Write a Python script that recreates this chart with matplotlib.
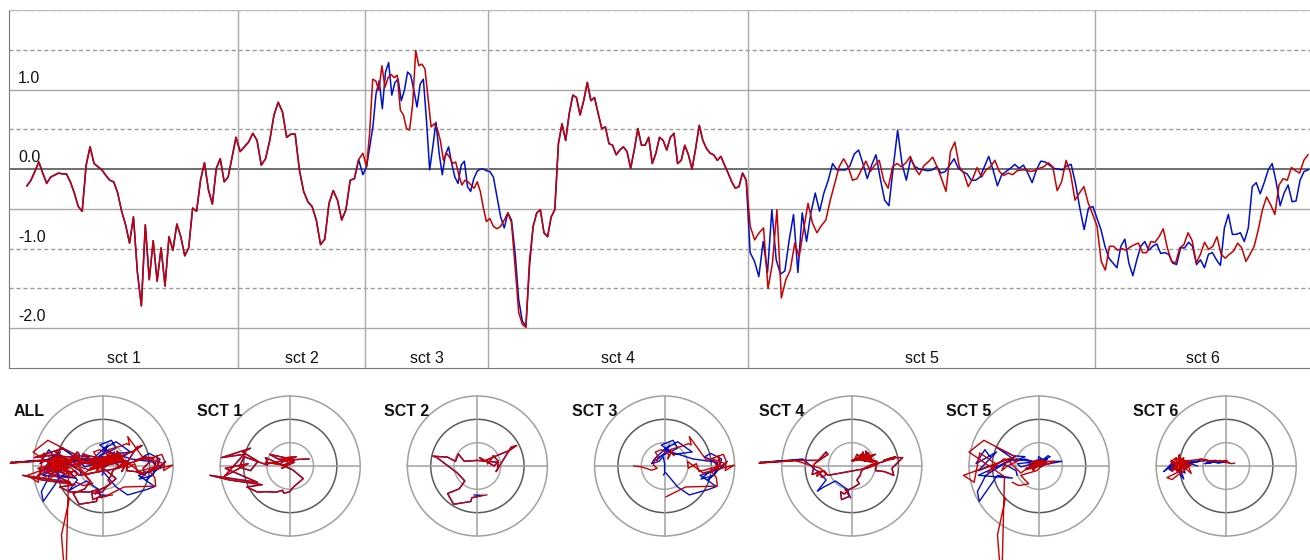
import numpy as np
import matplotlib
matplotlib.use("Agg")
import matplotlib.pyplot as plt
from matplotlib.patches import Circle
from matplotlib.transforms import blended_transform_factory

plt.rcParams['font.family'] = ['Liberation Sans', 'DejaVu Sans']

# sections on the time axis (frames)
sct_names = ['sct 1', 'sct 2', 'sct 3', 'sct 4', 'sct 5', 'sct 6']
target_names = ['ALL', 'SCT 1', 'SCT 2', 'SCT 3', 'SCT 4', 'SCT 5', 'SCT 6']
sct_start = [16, 229, 356, 479, 739, 1086]
sct_end = [229, 356, 479, 739, 1086, 1301]
t_max = 1301

# y ticks of the top chart
tick_vals = [1.0, 0.0, -1.0, -2.0]
tick_labels = ['1.0', '0.0', '-1.0', '-2.0']
solid_grid = [1.0, -0.5, -2.0]
dashed_grid = [2.0, 1.5, 0.5, -1.0, -1.5]

# --- section 1 (blue and red are the same) ---
s1_val = [-0.21, -0.14, -0.03, 0.09, -0.05, -0.18, -0.10, -0.075, -0.05, -0.06,
          -0.06, -0.16, -0.30, -0.47, -0.53, 0.05, 0.28, 0.07, 0.03, -0.01,
          -0.08, -0.14, -0.16, -0.30, -0.53, -0.70, -0.93, -0.60, -1.30, -1.72,
          -0.70, -1.39, -0.90, -1.41, -0.99, -1.47, -0.85, -1.02, -0.69, -0.85,
          -1.09, -0.99, -0.49, -0.53, -0.14, 0.08, -0.26, -0.44, 0.01, 0.13,
          -0.16, -0.10, 0.15, 0.40]
s1_y = [0.05, 0.10, 0.12, 0.08, 0.02, -0.05, 0.00, 0.00, 0.06, 0.10,
        0.14, 0.12, 0.08, 0.05, 0.18, -0.08, -0.27, -0.45, -0.50, -0.55,
        -0.57, -0.58, -0.52, -0.56, -0.55, -0.56, -0.45, -0.40, -0.30, -0.20,
        -0.35, -0.05, 0.05, -0.22, 0.25, 0.18, 0.38, 0.30, 0.10, -0.10,
        -0.02, 0.20, 0.02, 0.08, 0.02, 0.12, 0.15, 0.25, 0.15, 0.20,
        0.17, 0.12, 0.14, 0.15]

# --- section 2 ---
s2_blue = [0.22, 0.28, 0.34, 0.45, 0.36, 0.05, 0.13, 0.36, 0.68, 0.84,
           0.72, 0.40, 0.44, 0.44, -0.01, -0.28, -0.41, -0.47, -0.64, -0.95,
           -0.88, -0.43, -0.27, -0.39, -0.64, -0.51, -0.14, -0.12, 0.12, -0.07]
s2_red = [0.22, 0.28, 0.34, 0.45, 0.36, 0.05, 0.13, 0.36, 0.68, 0.84,
          0.72, 0.40, 0.44, 0.44, -0.01, -0.28, -0.41, -0.47, -0.64, -0.95,
          -0.88, -0.43, -0.27, -0.39, -0.64, -0.51, -0.14, -0.12, 0.12, 0.20]
s2_y = [0.05, 0.12, 0.22, 0.10, 0.00, 0.18, 0.10, 0.20, 0.33, 0.44,
        0.40, -0.12, -0.05, 0.08, 0.12, 0.10, 0.26, 0.10, 0.19, 0.21,
        0.19, -0.15, -0.32, -0.49, -0.59, -0.82, -0.76, -0.68, -0.63, -0.62]

# --- section 3 ---
s3_blue = [0.03, 0.28, 0.53, 0.95, 1.11, 0.76, 1.22, 1.34, 0.93, 1.09,
           1.13, 0.86, 0.99, 1.22, 1.18, 0.99, 0.78, 1.07, 1.13, 0.61,
           -0.01, 0.28, 0.59, 0.20, -0.07, 0.18, 0.28, 0.07, -0.10, -0.18,
           0.05, 0.10, -0.22, -0.28, -0.12, -0.03, 0.00, 0.00, -0.02]
s3_blue_y = [-0.15, -0.45, -0.62, -0.50, -0.44, -0.20, -0.05, 0.10, -0.30, -0.15,
             0.05, 0.20, 0.27, 0.15, 0.00, -0.10, -0.28, -0.20, 0.08, 0.15,
             0.35, 0.52, 0.30, 0.25, 0.45, 0.55, 0.38, 0.28, 0.20, 0.12,
             0.32, 0.45, 0.15, 0.05, 0.10, 0.20, 0.05, -0.15, -0.19]
s3_red = [0.03, 0.45, 1.13, 1.11, 0.99, 1.30, 1.03, 1.15, 1.19,
          1.15, 1.18, 0.74, 0.68, 0.51, 0.49, 0.82, 1.49, 1.30, 1.32,
          1.26, 0.90, 0.53, 0.57, 0.51, 0.36, 0.11, 0.20, 0.15, 0.07,
          0.09, -0.07, -0.20, -0.14, -0.16, -0.20, -0.24, -0.16, -0.28, -0.49,
          -0.66]
s3_red_y = [-0.66, -0.45, -0.43, -0.25, -0.10, 0.05, 0.15, -0.05, 0.10,
            0.22, 0.00, -0.12, 0.05, -0.05, 0.10, -0.15, 0.02, -0.10, 0.10,
            0.25, 0.12, 0.63, 0.45, 0.48, 0.42, 0.35, 0.22, 0.30, 0.15,
            0.25, 0.35, 0.30, 0.20, 0.12, 0.16, 0.02, -0.05, -0.09, -0.02,
            0.00]

# --- section 4 ---
s4_blue = [-0.03, -0.10, -0.35, -0.60, -0.74, -0.55, -0.64, -1.05, -1.64, -1.91,
           -1.97, -1.22, -0.72, -0.55, -0.51, -0.80, -0.85, -0.60, -0.51,
           0.32, 0.57, 0.36, 0.70, 0.93, 0.90, 0.68,
           0.86, 1.09, 0.86, 0.90, 0.70, 0.51, 0.53, 0.32, 0.30, 0.18,
           0.24, 0.28, 0.22, 0.01, 0.24, 0.51, 0.30, 0.30, 0.40, 0.07,
           0.20, 0.40, 0.36, 0.24, 0.40, 0.45, 0.07, 0.11, 0.30, 0.18,
           0.00, 0.26, 0.55, 0.36, 0.26, 0.20, 0.18, 0.11, 0.16, 0.05,
           -0.05, -0.16, -0.24, -0.22, -0.05, -0.14]
s4_blue_y = [-0.68, -0.50, -0.32, -0.45, -0.54, -0.30, -0.20, 0.15, 0.10, 0.07,
             0.08, 0.12, 0.12, 0.30, 0.25, 0.05, -0.18, -0.10, -0.20,
             -0.05, 0.05, 0.00, 0.10, 0.20, 0.15, 0.12,
             0.18, 0.18, -0.05, -0.20, -0.12, -0.10, 0.10, 0.15, 0.25, 0.15,
             0.30, 0.12, 0.22, 0.10, 0.18, 0.25, 0.15, 0.32, 0.20, 0.12,
             0.25, 0.10, 0.28, 0.18, 0.22, 0.08, 0.15, 0.25, 0.10, 0.20,
             0.12, 0.18, 0.08, 0.00, -0.05, -0.12, -0.20, -0.30, -0.38, -0.45,
             -0.50, -0.60, -0.55, -0.72, -0.65, -0.50]
s4_red = [-0.62, -0.72, -0.75, -0.72, -0.64, -0.55, -0.67, -1.22, -1.80, -1.95,
          -1.99, -1.14, -0.72, -0.55, -0.51, -0.80, -0.85, -0.60, -0.51,
          0.32, 0.57, 0.36, 0.70, 0.93, 0.90, 0.68,
          0.86, 1.09, 0.86, 0.90, 0.70, 0.51, 0.53, 0.32, 0.30, 0.18,
          0.24, 0.28, 0.22, 0.01, 0.24, 0.51, 0.30, 0.30, 0.40, 0.07,
          0.20, 0.40, 0.36, 0.24, 0.40, 0.45, 0.07, 0.11, 0.30, 0.18,
          0.00, 0.26, 0.55, 0.36, 0.26, 0.20, 0.18, 0.11, 0.16, 0.05,
          -0.05, -0.16, -0.24, -0.22, -0.05, -0.14]
s4_red_y = [-0.10, -0.20, -0.22, -0.10, -0.25, -0.18, -0.05, 0.12, 0.08, 0.07,
            0.06, 0.12, 0.12, 0.30, 0.25, 0.05, -0.18, -0.10, -0.20,
            -0.05, 0.05, 0.00, 0.10, 0.20, 0.15, 0.12,
            0.18, 0.18, -0.05, -0.20, -0.12, -0.10, 0.10, 0.15, 0.25, 0.15,
            0.30, 0.12, 0.22, 0.10, 0.18, 0.25, 0.15, 0.32, 0.20, 0.12,
            0.25, 0.10, 0.28, 0.18, 0.22, 0.08, 0.15, 0.25, 0.10, 0.20,
            0.12, 0.18, 0.08, 0.00, -0.05, -0.12, -0.20, -0.30, -0.38, -0.45,
            -0.50, -0.60, -0.55, -0.72, -0.65, -0.50]

# --- section 5 ---
s5_blue = [-1.05, -1.16, -1.35, -0.91, -1.30, -0.51, -1.14, -1.32, -1.28, -0.89,
           -0.57, -1.30, -0.55, -0.91, -0.55, -0.30, -0.53, -0.30, -0.14,
           0.07, -0.01, -0.01, -0.01, 0.04, 0.19, 0.24, 0.07, -0.12, 0.05,
           0.18, -0.12, -0.39, -0.46, 0.03, 0.49, 0.07, -0.14, 0.13, 0.03,
           0.00, -0.01, -0.02, -0.01, 0.03, -0.05, -0.03, 0.05, 0.13, 0.01,
           -0.03, -0.06, -0.14, -0.14, -0.10, 0.03, 0.16, -0.01, -0.21, -0.07,
           -0.03, 0.01, 0.06, 0.01, 0.05, -0.05, -0.17, -0.01, 0.10, 0.09,
           0.05, 0.01, 0.00, -0.01, 0.04, 0.06, -0.18, -0.49, -0.76, -0.49,
           -0.47]
s5_blue_y = [0.20, 0.35, 0.05, 0.30, -0.10, 0.20, -0.20, -0.55, -0.76, -0.20,
             -0.26, -0.20, 0.15, 0.40, 0.22, 0.20, 0.10, 0.15, 0.10,
             0.15, 0.20, 0.12, 0.05, 0.10, 0.22, 0.20, 0.12, 0.00, 0.08,
             0.15, 0.05, -0.02, 0.05, 0.10, 0.10, 0.02, -0.05, 0.05, 0.10,
             0.08, 0.02, 0.05, 0.00, 0.03, 0.06, 0.02, -0.02, 0.04, 0.08,
             0.05, 0.00, -0.03, 0.05, 0.08, 0.02, 0.06, 0.10, 0.03, -0.02,
             0.04, 0.07, 0.02, 0.05, 0.08, 0.03, 0.00, 0.05, 0.10, 0.06,
             0.02, 0.04, 0.07, 0.03, 0.00, 0.05, 0.10, 0.15, 0.05, -0.10,
             -0.20]
s5_red = [-0.72, -0.89, -0.80, -0.74, -1.50, -1.18, -0.51, -1.62, -1.39, -1.27,
          -0.93, -1.10, -0.76, -0.43, -0.68, -0.80, -0.71, -0.64, -0.39, -0.18,
          0.03, 0.13, 0.03, -0.14, -0.12, -0.01, 0.10, -0.03, 0.05, 0.11,
          -0.14, -0.24, 0.03, 0.07, 0.03, 0.08, 0.16, 0.01, -0.07, 0.04,
          0.09, 0.15, 0.03, -0.12, -0.28, 0.22, 0.34, 0.03, -0.05, -0.22,
          -0.12, 0.02, -0.10, -0.01, 0.03, 0.11, -0.03, -0.08, -0.05, -0.07,
          -0.02, -0.01, -0.01, -0.03, -0.02, 0.01, 0.03, 0.08, 0.03, -0.27,
          -0.16, 0.11, -0.05, -0.39, -0.30, -0.22, -0.43, -0.57]
s5_red_y = [-0.69, -1.48, -2.60, -0.23, 0.30, 0.55, 0.20, -0.20, -0.35, 0.28,
            0.05, -0.15, 0.15, 0.12, 0.00, -0.10, 0.08, 0.10, -0.15, 0.00,
            0.05, 0.10, 0.08, -0.08, -0.10, 0.06, 0.12, 0.04, 0.08, 0.10,
            0.00, -0.05, 0.10, 0.06, 0.12, 0.08, 0.05, 0.10, 0.02, 0.08,
            0.12, 0.06, 0.10, 0.00, -0.05, 0.05, 0.10, 0.08, 0.12, 0.04,
            0.09, 0.06, 0.10, 0.07, 0.05, 0.09, 0.11, 0.06, 0.08, 0.10,
            0.07, 0.09, 0.05, 0.08, 0.10, 0.06, 0.08, 0.05, 0.10, -0.08,
            -0.05, 0.05, -0.10, -0.20, -0.30, -0.38, -0.42, -0.35]

# --- section 6 ---
s6_blue = [-0.62, -0.76, -0.97, -1.12, -1.18, -1.24, -0.97, -0.88, -1.18, -1.34,
           -1.14, -0.97, -0.91, -1.02, -0.97, -0.94, -1.06, -1.05, -1.07, -1.18,
           -1.20, -0.99, -0.99, -0.92, -0.97, -1.20, -1.14, -1.24, -1.07, -1.05,
           -1.14, -1.21, -0.74, -0.57, -0.82, -0.82, -0.80, -0.91, -0.74, -0.22,
           -0.17, -0.31, -0.17, -0.01, 0.07, -0.16, -0.46, -0.30, -0.20, -0.41,
           -0.40, -0.14, -0.03, -0.01]
s6_blue_y = [0.00, 0.05, -0.05, 0.10, -0.10, -0.05, 0.12, -0.15, 0.00, -0.12,
             0.08, -0.20, -0.28, 0.05, -0.08, 0.10, 0.00, -0.10, 0.06, -0.05,
             0.02, -0.12, 0.10, -0.02, 0.05, -0.08, 0.08, -0.05, 0.02, -0.10,
             0.05, -0.03, 0.08, 0.10, 0.05, 0.12, 0.07, 0.02, 0.10, 0.12,
             0.08, 0.10, 0.06, 0.09, 0.07, 0.10, 0.05, 0.08, 0.10, 0.06,
             0.09, 0.08, 0.10, 0.07]
s6_red = [-0.72, -1.16, -1.27, -0.97, -0.97, -1.02, -1.00, -1.02, -0.98, -0.95,
          -0.93, -1.05, -1.05, -0.91, -0.92, -0.85, -0.75, -0.99, -1.16, -1.18,
          -0.99, -0.95, -0.80, -0.90, -1.18, -1.07, -0.92, -1.01, -0.97, -0.85,
          -1.07, -1.12, -1.07, -1.03, -0.93, -0.99, -1.16, -1.07, -0.97, -0.76,
          -0.51, -0.35, -0.45, -0.57, -0.20, -0.12, -0.14, 0.02, -0.02, -0.05,
          0.11, 0.18]
s6_red_y = [0.05, -0.29, -0.25, -0.10, 0.15, 0.20, 0.25, 0.10, -0.05, 0.12,
            0.02, -0.12, 0.08, 0.18, -0.05, 0.10, -0.16, 0.05, -0.10, 0.12,
            0.00, 0.15, 0.05, -0.08, 0.10, 0.18, 0.02, -0.06, 0.12, 0.05,
            -0.10, 0.08, 0.15, 0.00, 0.10, 0.05, -0.12, 0.06, 0.10, 0.12,
            0.15, 0.10, 0.13, 0.14, 0.10, 0.12, 0.10, 0.12, 0.08, 0.10,
            0.05, 0.06]

BLUE = '#0010c8'
RED = '#c80000'

blue_sections = [(s1_val, s1_y), (s2_blue, s2_y), (s3_blue, s3_blue_y),
                 (s4_blue, s4_blue_y), (s5_blue, s5_blue_y), (s6_blue, s6_blue_y)]
red_sections = [(s1_val, s1_y), (s2_red, s2_y), (s3_red, s3_red_y),
                (s4_red, s4_red_y), (s5_red, s5_red_y), (s6_red, s6_red_y)]


def section_times(k, n):
    step = (sct_end[k] - sct_start[k]) / n
    return sct_start[k] + (np.arange(n) + 0.5) * step


W, H = 1310, 560
fig = plt.figure(figsize=(W / 100, H / 100), dpi=100)

# ---------------- top chart ----------------
ax = fig.add_axes([9 / W, 1 - 368 / H, 1301 / W, 358 / H])
ax.set_xlim(0, t_max)
ax.set_ylim(-2.5, 2.0)
ax.set_xticks([])
ax.set_yticks([])
for side in ['left', 'bottom']:
    ax.spines[side].set_color('#777777')
ax.spines['top'].set_color('#bbbbbb')
ax.spines['right'].set_visible(False)

for v in solid_grid:
    ax.axhline(v, color='#a8a8a8', lw=1.0, zorder=1)
for v in dashed_grid:
    ax.axhline(v, color='#9a9a9a', lw=1.0, ls=(0, (3, 2)), zorder=1)
ax.axhline(0.0, color='#555555', lw=1.2, zorder=1)
for e in sct_end[:-1]:
    ax.axvline(e, color='#a8a8a8', lw=1.0, zorder=1)

lab_tr = blended_transform_factory(ax.transAxes, ax.transData)
for v, s in zip(tick_vals, tick_labels):
    ax.text(0.007, v + 0.05, s, transform=lab_tr, ha='left', va='bottom',
            fontsize=11.5, color='#111111')

for k, name in enumerate(sct_names):
    left = 0 if k == 0 else sct_start[k]
    ax.text((left + sct_end[k]) / 2, -2.38, name, ha='center', va='center',
            fontsize=11.5, color='#111111')

for sections, color in [(blue_sections, BLUE), (red_sections, RED)]:
    t_all = np.concatenate([section_times(k, len(v)) for k, (v, _) in enumerate(sections)])
    v_all = np.concatenate([v for v, _ in sections])
    ax.plot(t_all, v_all, color=color, lw=1.1, zorder=3)

# ---------------- target plots ----------------
px_per_unit = 70 / 1.5
x0 = 103
gap = 187.2
label_dx = [-89, -93, -93, -93, -93, -93, -93]


def draw_target(tax, name, dx):
    for r, c in [(1.5, '#a0a0a0'), (1.0, '#5a5a5a'), (0.5, '#a8a8a8')]:
        tax.add_patch(Circle((0, 0), r, fill=False, ec=c, lw=1.1, zorder=1))
    tax.plot([-1.5, 1.5], [0, 0], color='#a0a0a0', lw=1.1, zorder=1)
    tax.plot([0, 0], [-1.5, 1.5], color='#a0a0a0', lw=1.1, zorder=1)
    tax.text(dx / px_per_unit, 54 / px_per_unit, name, ha='left', va='center',
             fontsize=11.5, fontweight='bold', color='#111111')


for i, name in enumerate(target_names):
    cx = x0 + i * gap
    tax = fig.add_axes([(cx - 93) / W, 0, 186 / W, 188 / H])
    tax.set_xlim(-93 / px_per_unit, 93 / px_per_unit)
    tax.set_ylim(-94 / px_per_unit, 94 / px_per_unit)
    tax.axis('off')
    draw_target(tax, name, label_dx[i])
    picks = range(6) if i == 0 else [i - 1]
    for sections, color in [(blue_sections, BLUE), (red_sections, RED)]:
        for k in picks:
            xs, ys = sections[k]
            tax.plot(xs, ys, color=color, lw=1.0, zorder=3, clip_on=False)

fig.savefig('out.png', dpi=100, facecolor='white')
